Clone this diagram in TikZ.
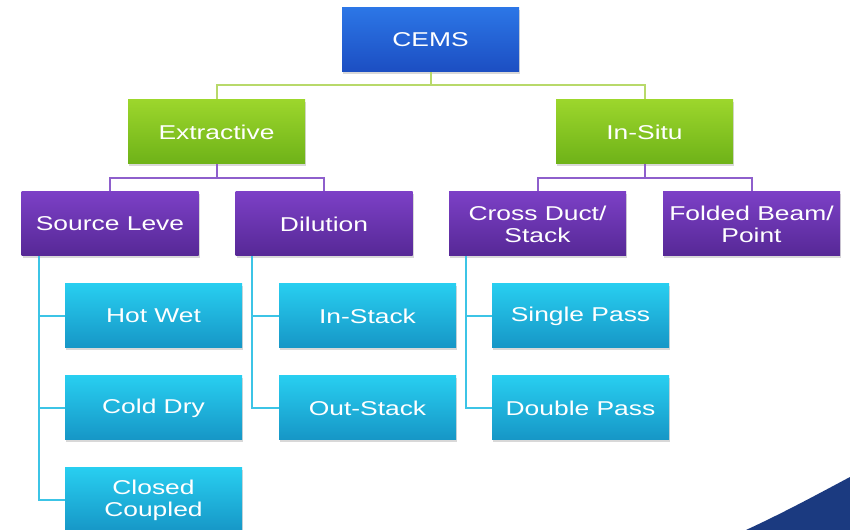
\documentclass[tikz,border=0pt]{standalone}
\usepackage{fontspec}
\usepackage{xcolor}
\usetikzlibrary{shadows,calc}
\newfontfamily\boxfont[FakeStretch=1.32]{Liberation Sans}
\definecolor{cemsTop}{RGB}{44,118,230}
\definecolor{cemsBot}{RGB}{28,78,194}
\definecolor{grnTop}{RGB}{156,214,44}
\definecolor{grnBot}{RGB}{110,178,24}
\definecolor{prpTop}{RGB}{124,64,198}
\definecolor{prpBot}{RGB}{86,40,150}
\definecolor{cynTop}{RGB}{40,206,240}
\definecolor{cynBot}{RGB}{22,150,198}
\definecolor{grnLine}{RGB}{184,217,106}
\definecolor{prpLine}{RGB}{142,95,204}
\definecolor{cynLine}{RGB}{60,196,230}
\definecolor{swoosh}{RGB}{27,58,128}
\tikzset{every picture/.style={line width=0.75pt}}
\tikzset{
  box/.style={minimum width=132.75pt, minimum height=48pt, inner sep=0pt,
    align=center, text=white, font=\boxfont\fontsize{15}{16.5}\selectfont,
    drop shadow={shadow xshift=0.8pt, shadow yshift=-1.2pt, opacity=0.3}},
  cemsbox/.style={box, top color=cemsTop, bottom color=cemsBot},
  grnbox/.style={box, top color=grnTop, bottom color=grnBot},
  prpbox/.style={box, top color=prpTop, bottom color=prpBot},
  cynbox/.style={box, top color=cynTop, bottom color=cynBot},
  grnlink/.style={draw=grnLine, line width=1.5pt},
  prplink/.style={draw=prpLine, line width=1.5pt},
  cynlink/.style={draw=cynLine, line width=1.5pt}
}

\begin{document}
\begin{tikzpicture}[x=0.75pt,y=0.75pt,yscale=-1,xscale=1]
\clip (0,0) rectangle (850,530);
\fill[white] (0,0) rectangle (850,530);

%Shape: Swoosh
\fill[swoosh] (746,530) .. controls (785,512) and (818,494) .. (850,477) -- (850,530) -- cycle;

% Text Node
\node (cems) at (430.5,40) [cemsbox] {CEMS};
% Text Node
\node (extr) at (216.5,132) [grnbox] {Extractive};
\node (insitu) at (644.5,132) [grnbox] {In-Situ};
% Text Node
\node (srcl) at (110,224) [prpbox] {Source Leve};
\node (dilu) at (324,224) [prpbox] {Dilution};
\node (cross) at (537.5,224) [prpbox] {Cross Duct/\\Stack};
\node (fold) at (751.5,224) [prpbox] {Folded Beam/\\Point};
% Text Node
\node (hotwet) at (153.5,316) [cynbox] {Hot Wet};
\node (colddry) at (153.5,408) [cynbox] {Cold Dry};
\node (closed) at (153.5,500) [cynbox] {Closed\\Coupled};
\node (instack) at (367.5,316) [cynbox] {In-Stack};
\node (outstack) at (367.5,408) [cynbox] {Out-Stack};
\node (single) at (580.5,316) [cynbox] {Single Pass};
\node (double) at (580.5,408) [cynbox] {Double Pass};

%Straight Lines
\draw[grnlink] (cems.south) -- ++(0,13) -| (extr.north);
\draw[grnlink] (cems.south) -- ++(0,13) -| (insitu.north);
%Straight Lines
\draw[prplink] (extr.south) -- ++(0,14) -| (srcl.north);
\draw[prplink] (extr.south) -- ++(0,14) -| (dilu.north);
\draw[prplink] (insitu.south) -- ++(0,14) -| (cross.north);
\draw[prplink] (insitu.south) -- ++(0,14) -| (fold.north);
%Straight Lines
\coordinate (srcroot) at ($(srcl.south west)+(18,0)$);
\draw[cynlink] (srcroot) |- (hotwet.west);
\draw[cynlink] (srcroot) |- (colddry.west);
\draw[cynlink] (srcroot) |- (closed.west);
\coordinate (diluroot) at ($(dilu.south west)+(17,0)$);
\draw[cynlink] (diluroot) |- (instack.west);
\draw[cynlink] (diluroot) |- (outstack.west);
\coordinate (crossroot) at ($(cross.south west)+(17,0)$);
\draw[cynlink] (crossroot) |- (single.west);
\draw[cynlink] (crossroot) |- (double.west);

\end{tikzpicture}
\end{document}
